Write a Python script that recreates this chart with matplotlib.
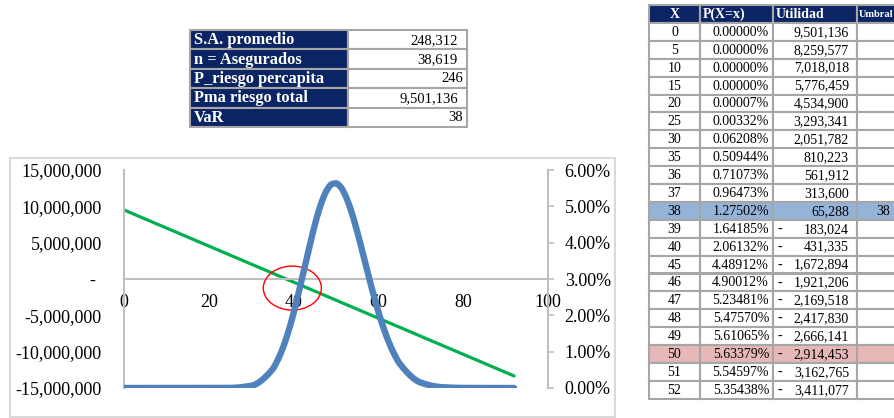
import numpy as np
import matplotlib.pyplot as plt
from matplotlib.patches import Rectangle, Ellipse
from matplotlib.ticker import FuncFormatter, FixedLocator

plt.rcParams['font.family'] = ['Liberation Serif', 'DejaVu Serif']

NAVY = '#0B2463'
GRID = '#A6A6A6'
BLUE = '#4F81BD'
GREEN = '#00B050'
VAR_FILL = '#95B3D7'
MAX_FILL = '#E6B8B7'

# resumen del riesgo
resumen_labels = ["S.A. promedio", "n = Asegurados", "P_riesgo percapita", "Pma riesgo total", "VaR"]
resumen_values = [248312, 38619, 246, 9501136, 38]
resumen_contable = [True, True, False, True, False]   # formato contable (deja espacio al final)

# tabla de la distribucion
tabla_x = [0, 5, 10, 15, 20, 25, 30, 35, 36, 37, 38, 39, 40, 45, 46, 47, 48, 49, 50, 51, 52]
tabla_p = [0.0, 0.0, 0.0, 0.0, 0.00007, 0.00332, 0.06208, 0.50944, 0.71073, 0.96473, 1.27502,
           1.64185, 2.06132, 4.48912, 4.90012, 5.23481, 5.47570, 5.61065, 5.63379, 5.54597, 5.35438]
tabla_util = [9501136, 8259577, 7018018, 5776459, 4534900, 3293341, 2051782, 810223, 561912, 313600,
              65288, -183024, -431335, -1672894, -1921206, -2169518, -2417830, -2666141, -2914453,
              -3162765, -3411077]
tabla_header = ["X", "P(X=x)", "Utilidad", "Umbral"]
var_x = 38
moda_x = 50

# resto de filas usadas en el grafico
resto_x = [53, 54, 55, 56, 57, 58, 59, 60, 61, 62, 63, 64, 65, 70, 75, 80, 85, 90, 92]
resto_p = [5.072, 4.716, 4.304, 3.859, 3.399, 2.942, 2.504, 2.095, 1.724, 1.396, 1.113, 0.873, 0.674,
           0.148, 0.0228, 0.0025, 0.0002, 0.00001, 0.0]
resto_util = [-3659389, -3907701, -4156013, -4404325, -4652637, -4900949, -5149261, -5397573,
              -5645885, -5894197, -6142509, -6390821, -6639133, -7880693, -9122253, -10363813,
              -11605373, -12846933, -13343557]

graf_x = tabla_x + resto_x
graf_p = tabla_p + resto_p
graf_util = tabla_util + resto_util


def suavizar(x, y, n=24):
    # curva cubica monotona por tramos (como la linea suavizada de excel)
    x = np.asarray(x, float)
    y = np.asarray(y, float)
    h = np.diff(x)
    d = np.diff(y) / h
    m = np.zeros_like(y)
    for k in range(1, len(x) - 1):
        if d[k - 1] * d[k] > 0:
            w1 = 2 * h[k] + h[k - 1]
            w2 = h[k] + 2 * h[k - 1]
            m[k] = (w1 + w2) / (w1 / d[k - 1] + w2 / d[k])
    m[0], m[-1] = d[0], d[-1]
    xs, ys = [], []
    t = np.linspace(0, 1, n, endpoint=False)
    h00 = 2 * t**3 - 3 * t**2 + 1
    h10 = t**3 - 2 * t**2 + t
    h01 = -2 * t**3 + 3 * t**2
    h11 = t**3 - t**2
    for k in range(len(x) - 1):
        xs.append(x[k] + t * h[k])
        ys.append(h00 * y[k] + h10 * h[k] * m[k] + h01 * y[k + 1] + h11 * h[k] * m[k + 1])
    xs.append([x[-1]])
    ys.append([y[-1]])
    return np.concatenate(xs), np.concatenate(ys)


W, H = 894, 418
fig = plt.figure(figsize=(W / 100, H / 100), dpi=100)

# capa en pixeles para las tablas y el marco del grafico
bg = fig.add_axes([0, 0, 1, 1])
bg.set_xlim(0, W)
bg.set_ylim(H, 0)
bg.axis('off')

# --- tabla resumen ---
rx0, rx1, rx2 = 190, 348, 467
ry0, rh = 30, 19.4
for i, (lab, val, cont) in enumerate(zip(resumen_labels, resumen_values, resumen_contable)):
    y = ry0 + i * rh
    bg.add_patch(Rectangle((rx0, y), rx1 - rx0, rh, facecolor=NAVY, edgecolor=GRID, lw=1.5))
    bg.add_patch(Rectangle((rx1, y), rx2 - rx1, rh, facecolor='white', edgecolor=GRID, lw=1.5))
    bg.text(rx0 + 4, y + rh / 2 + 0.5, lab, color='white', fontweight='bold', fontsize=11.8,
            ha='left', va='center')
    bg.text(rx2 - (9 if cont else 4), y + rh / 2 + 0.5, f"{val:,}", color='black', fontsize=10.5,
            ha='right', va='center')

# --- tabla de la distribucion ---
cols = [649, 700, 773, 857, 910]
ty0, th = 5, 17.9
for j, name in enumerate(tabla_header):
    bg.add_patch(Rectangle((cols[j], ty0), cols[j + 1] - cols[j], th, facecolor=NAVY,
                           edgecolor=GRID, lw=1.5))
    if j == 0:
        bg.text((cols[0] + cols[1]) / 2, ty0 + th / 2 + 0.5, name, color='white',
                fontweight='bold', fontsize=10, ha='center', va='center')
    elif j == 3:
        bg.text(cols[j] + 2, ty0 + th / 2 + 0.5, name, color='white', fontweight='bold',
                fontsize=7.5, ha='left', va='center')
    else:
        bg.text(cols[j] + 3, ty0 + th / 2 + 0.5, name, color='white', fontweight='bold',
                fontsize=10, ha='left', va='center')

for i, (xv, pv, uv) in enumerate(zip(tabla_x, tabla_p, tabla_util)):
    y = ty0 + (i + 1) * th
    fill = VAR_FILL if xv == var_x else MAX_FILL if xv == moda_x else 'white'
    for j in range(4):
        bg.add_patch(Rectangle((cols[j], y), cols[j + 1] - cols[j], th, facecolor=fill,
                               edgecolor=GRID, lw=1.5))
    yc = y + th / 2 + 0.5
    bg.text((cols[0] + cols[1]) / 2, yc, f"{xv}", fontsize=10, ha='center', va='center')
    bg.text(cols[2] - 4, yc, f"{pv:.5f}%", fontsize=10, ha='right', va='center')
    if uv < 0:
        bg.text(cols[2] + 4, yc, "-", fontsize=10, ha='left', va='center')
    bg.text(cols[3] - 8, yc, f"{abs(uv):,}", fontsize=10, ha='right', va='center')
    if xv == var_x:
        bg.text(876, yc, f"{var_x}", fontsize=10, ha='left', va='center')

# marco del grafico
bg.add_patch(Rectangle((10, 158), 605, 259, facecolor='none', edgecolor='#D9D9D9', lw=1.5))

# --- grafico ---
ax = fig.add_axes([124 / W, (H - 388) / H, 424 / W, 218 / H])
ax.patch.set_alpha(0)
ax.plot(graf_x, graf_util, color=GREEN, lw=2.3, solid_capstyle='round')
ax.set_xlim(0, 100)
ax.set_ylim(-15e6, 15e6)
ax.xaxis.set_major_locator(FixedLocator([0, 20, 40, 60, 80, 100]))
ax.yaxis.set_major_locator(FixedLocator(np.arange(-15e6, 15.1e6, 5e6)))
ax.yaxis.set_major_formatter(FuncFormatter(lambda v, _: "-" if v == 0 else f"{v:,.0f}"))
for s in ['top', 'right']:
    ax.spines[s].set_visible(False)
ax.spines['bottom'].set_position(('data', 0))
for s in ['left', 'bottom']:
    ax.spines[s].set_color('#BFBFBF')
    ax.spines[s].set_linewidth(1.5)
ax.tick_params(axis='y', length=0, pad=16, labelsize=13)
ax.tick_params(axis='x', length=0, pad=11, labelsize=13)
ax.yaxis.get_major_ticks()[3].set_pad(21)

ax2 = ax.twinx()
ax2.patch.set_alpha(0)
sx, sp = suavizar(graf_x, graf_p)
ax2.plot(sx, sp, color=BLUE, lw=4.6, solid_capstyle='round')
ax2.set_ylim(0, 6)
ax2.yaxis.set_major_locator(FixedLocator(np.arange(0, 6.01, 1)))
ax2.yaxis.set_major_formatter(FuncFormatter(lambda v, _: f"{v:.2f}%"))
for s in ['top', 'left', 'bottom']:
    ax2.spines[s].set_visible(False)
ax2.spines['right'].set_color('#BFBFBF')
ax2.spines['right'].set_linewidth(1.5)
ax2.tick_params(axis='y', length=4, width=1.2, color='#BFBFBF', pad=8, labelsize=13)

# zona del VaR
ax2.add_patch(Ellipse((39.7, 2.75), 13.7, 1.21, facecolor='none', edgecolor='red', lw=1))

fig.savefig('out.png', dpi=100)
